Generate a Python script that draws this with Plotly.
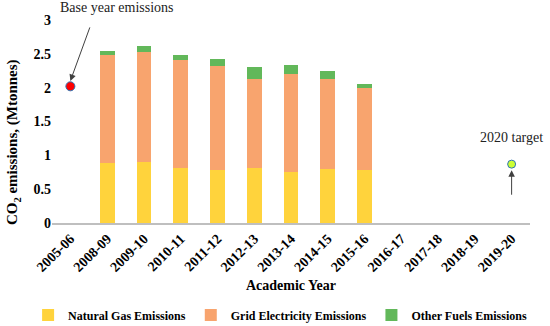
import plotly.graph_objects as go

categories = ["2005-06", "2008-09", "2009-10", "2010-11", "2011-12", "2012-13", "2013-14",
              "2014-15", "2015-16", "2016-17", "2017-18", "2018-19", "2019-20"]
natural_gas = [None, 0.88, 0.90, 0.82, 0.78, 0.81, 0.75, 0.80, 0.79, None, None, None, None]
grid_electricity = [None, 1.60, 1.63, 1.59, 1.54, 1.32, 1.45, 1.33, 1.21, None, None, None, None]
other_fuels = [None, 0.065, 0.09, 0.08, 0.10, 0.17, 0.14, 0.12, 0.06, None, None, None, None]
base_year = "2005-06"
base_value = 2.02
target_year = "2019-20"
target_value = 0.87

serif = "Liberation Serif"

fig = go.Figure()
fig.add_trace(go.Bar(x=categories, y=natural_gas, name="Natural Gas Emissions",
                     marker=dict(color="#FFD33C", line=dict(width=0))))
fig.add_trace(go.Bar(x=categories, y=grid_electricity, name="Grid Electricity Emissions",
                     marker=dict(color="#F8A46E", line=dict(width=0))))
fig.add_trace(go.Bar(x=categories, y=other_fuels, name="Other Fuels Emissions",
                     marker=dict(color="#62B85A", line=dict(width=0))))
fig.add_trace(go.Scatter(x=[base_year], y=[base_value], mode="markers", showlegend=False,
                         marker=dict(color="#FF0000", size=9, line=dict(color="#2E75B6", width=1))))
fig.add_trace(go.Scatter(x=[target_year], y=[target_value], mode="markers", showlegend=False,
                         marker=dict(color="#CCFF33", size=8, line=dict(color="#2E75B6", width=1))))

# annotations
fig.add_annotation(xref="paper", yref="paper", x=0.135, y=1.06, xanchor="center",
                   yanchor="middle", text="Base year emissions",
                   showarrow=False, font=dict(family=serif, size=14, color="#222"))
fig.add_annotation(x=base_year, y=2.10, text="", showarrow=True, arrowhead=2, arrowsize=1.3,
                   arrowwidth=1, arrowcolor="#404040", ax=20, ay=-55)
fig.add_annotation(x=target_year, y=1.26, text="2020 target", showarrow=False,
                   font=dict(family=serif, size=14, color="#222"))
fig.add_annotation(x=target_year, y=0.78, text="", showarrow=True, arrowhead=2, arrowsize=1.3,
                   arrowwidth=1, arrowcolor="#404040", ax=0, ay=26)
# y-axis title (placed slightly below the plot centre, as in the original)
fig.add_annotation(xref="paper", yref="paper", x=-0.081, y=0.40, xanchor="center",
                   yanchor="middle", textangle=-90, showarrow=False,
                   text="CO<sub>2</sub> emissions, (Mtonnes)",
                   font=dict(family=serif, size=15, weight="bold", color="#000"))

fig.update_layout(
    width=550, height=326,
    barmode="stack", bargap=0.6,
    plot_bgcolor="white", paper_bgcolor="white",
    margin=dict(l=52, r=20, t=20, b=103, autoexpand=False),
    font=dict(family=serif, color="#000"),
    legend=dict(orientation="h", xref="paper", yref="paper",
                x=-0.05, xanchor="left", y=-0.453, yanchor="middle",
                traceorder="normal",
                font=dict(family=serif, size=12, weight="bold", color="#000"),
                itemwidth=30, tracegroupgap=0),
    xaxis=dict(type="category", categoryorder="array", categoryarray=categories,
               range=[-0.5, len(categories) - 0.5], automargin=False,
               showline=True, linecolor="#BFBFBF", linewidth=2, showgrid=False,
               tickangle=-45, tickfont=dict(family=serif, size=14, weight="bold"),
               title=dict(text="Academic Year", font=dict(family=serif, size=14, weight="bold"),
                          standoff=6)),
    yaxis=dict(range=[0, 3], dtick=0.5, showgrid=False, zeroline=False, showline=False,
               automargin=False,
               tickfont=dict(family=serif, size=14, weight="bold")),
)

fig.write_html("out.html", config={"displayModeBar": False},
               post_script="document.body.style.margin='0';document.body.style.padding='0';")
